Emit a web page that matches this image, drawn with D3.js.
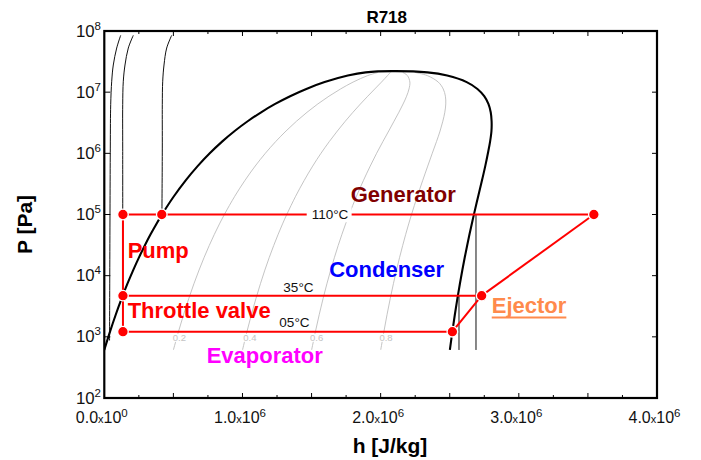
<!DOCTYPE html>
<html><head><meta charset="utf-8">
<script src="https://cdn.jsdelivr.net/npm/d3@7"></script>
<style>
body{margin:0;background:#fff}
svg{display:block}
text{font-family:"Liberation Sans",Arial,Helvetica,sans-serif}
</style>
</head><body>
<svg id="c" width="701" height="460"></svg>
<script>
// ---------- data (h in kJ/kg, P in Pa) ----------
// saturation dome of water (R718)
const satP  = [611.7,1228,2339,4247,7385,12352,19947,31202,47416,70183,101420,198670,361530,618230,1002800,1554900,2319600,3346900,4692300,6416600,8587900,11284000,14601000,18666000,21044000,22064000];
const satHf = [0.0,42.0,83.9,125.7,167.5,209.3,251.2,293.1,335.0,377.0,419.2,503.8,589.2,675.5,763.1,852.3,943.6,1037.6,1135.0,1236.7,1344.8,1462.2,1594.5,1762.2,1891.7,2084.3];
const satHg = [2500.9,2519.2,2537.4,2555.6,2573.5,2591.3,2608.8,2626.1,2643.0,2659.5,2675.6,2706.0,2733.5,2757.0,2776.2,2792.0,2801.9,2803.0,2796.6,2779.9,2749.6,2700.6,2622.7,2481.5,2338.8,2084.3];

// constant-quality lines (same pressures as satP, without the critical point)
const qualityNames = ["0.2","0.4","0.6","0.8"];
const q02 = [500.2,537.4,574.6,611.7,648.7,685.7,722.7,759.7,796.6,833.5,870.5,944.2,1018.1,1091.8,1165.7,1240.2,1315.3,1390.7,1467.3,1545.3,1625.8,1709.9,1800.1,1906.1,1981.1];
const q04 = [1000.4,1032.9,1065.3,1097.7,1129.9,1162.1,1194.2,1226.3,1258.2,1290.0,1321.8,1384.7,1447.0,1508.1,1568.3,1628.2,1686.9,1743.8,1799.6,1854.0,1906.7,1957.6,2005.8,2049.9,2070.5];
const q06 = [1500.5,1528.3,1556.0,1583.6,1611.1,1638.5,1665.8,1692.9,1719.8,1746.5,1773.0,1825.1,1875.8,1924.4,1970.9,2016.1,2058.6,2096.8,2132.0,2162.6,2187.7,2205.2,2211.4,2193.8,2160.0];
const q08 = [2000.7,2023.8,2046.7,2069.6,2092.3,2114.9,2137.3,2159.5,2181.4,2203.0,2224.3,2265.6,2304.6,2340.7,2373.6,2404.1,2430.2,2449.9,2464.3,2471.3,2468.6,2452.9,2417.1,2337.6,2249.4];
const qualityLabelH = [543,1054,1537,2039];
const qualityLabelP = 860;

// isotherms
const isoLiqP  = [8.5e7,5.27e7,2.78e7,1.51e7,6.24e6,1.22e6];
const iso05LiqH  = [118.7,89.7,65.1,53.6,46.3,43.4];
const iso35LiqH  = [209.9,173.7,149.8,137.5,133.2,133.2];
const iso110LiqH = [487.8,451.6,432.1,422.7,419.8,419.8];
const iso05LiqEnd = [38, 872];
const iso35LiqEnd = [134, 4710];
const iso110LiqEnd = [417, 100000];
const isoVapH = [2567, 2690];            // 35°C, 110°C vapour branches
const isoVapTop = [4710, 100000];
const isoVapBottom = 610;

// ejector refrigeration cycle
const cycleNames = ["A","B","C","D","E","F","G"];
const cycleH = [135, 416, 3543, 2731, 2519, 135, 135];
const cycleP = [100000, 100000, 100000, 4710, 1214, 4710, 1214];
const cycleSegments = [["A","C"],["C","D"],["D","E"],["D","F"],["E","G"],["A","F"],["F","G"]];

// annotations
const labelTexts  = ["Generator","Pump","Throttle valve","Condenser","Evaporator","Ejector"];
const labelColors = ["#800000","#ff0000","#ff0000","#0000ff","#ff00ff","#ff8a4c"];
const labelH = [1783, 169, 169, 1628, 741, 2804];
const labelP = [1.62e5, 1.945e4, 2032, 9620, 375, 2407];
const tempTexts = ["110°C","35°C","05°C"];
const tempH = [1501, 1296, 1267];
const tempP = [8.35e4, 5470, 1466];

// axes
const xTickMant = ["0.0","1.0","2.0","3.0","4.0"];
const xTickExp  = ["0","6","6","6","6"];
const xTickVals = [0,1000,2000,3000,4000];
const yTickVals = [1e2,1e3,1e4,1e5,1e6,1e7,1e8];
const yTickExp  = ["2","3","4","5","6","7","8"];

// ---------- drawing ----------
const svg = d3.select("#c");
const L = 104.3, R = 657, T = 31, B = 398;
const x = d3.scaleLinear().domain([0,4000]).range([L,R]);
const y = d3.scaleLog().domain([100,1e8]).range([B,T]);

const clipId = "plotclip";
svg.append("defs").append("clipPath").attr("id",clipId)
  .append("rect").attr("x",L).attr("y",T).attr("width",R-L).attr("height",B-T);
const plot = svg.append("g").attr("clip-path",`url(#${clipId})`);

const line = d3.line().x(d=>x(d[0])).y(d=>y(d[1])).curve(d3.curveCatmullRom.alpha(0.5));
const lin = d3.line().x(d=>x(d[0])).y(d=>y(d[1]));

// quality lines
[q02,q04,q06,q08].forEach(arr=>{
  const pts = arr.map((h,i)=>[h, satP[i]]);
  plot.append("path").attr("d",line(pts)).attr("fill","none")
    .attr("stroke","#bdbdbd").attr("stroke-width",0.9);
});
qualityNames.forEach((t,i)=>{
  const g = plot.append("g");
  const tx = g.append("text").attr("x",x(qualityLabelH[i])).attr("y",y(qualityLabelP))
    .attr("text-anchor","middle").attr("font-size",9.5).attr("fill","#c4c4c4").text(t);
  const bb = tx.node().getBBox();
  g.insert("rect","text").attr("x",bb.x-1).attr("y",bb.y+2).attr("width",bb.width+2).attr("height",bb.height-3).attr("fill","#fff");
});

// isotherms
const isoLiq = [[iso05LiqH,iso05LiqEnd],[iso35LiqH,iso35LiqEnd],[iso110LiqH,iso110LiqEnd]];
isoLiq.forEach(([hs,end])=>{
  const pts = hs.map((h,i)=>[h,isoLiqP[i]]).concat([end]);
  plot.append("path").attr("d",line(pts)).attr("fill","none")
    .attr("stroke","#111").attr("stroke-width",1);
});
isoVapH.forEach((h,i)=>{
  plot.append("path").attr("d",lin([[h,isoVapTop[i]],[h,isoVapBottom]])).attr("fill","none")
    .attr("stroke","#111").attr("stroke-width",1);
});

// saturation dome
const dome = satHf.map((h,i)=>[h,satP[i]])
  .concat(satHg.slice(0,-1).map((h,i)=>[h,satP[i]]).reverse());
plot.append("path").attr("d",line(dome)).attr("fill","none")
  .attr("stroke","#000").attr("stroke-width",2.1);

// cycle
const idx = n=>cycleNames.indexOf(n);
cycleSegments.forEach(([a,b])=>{
  plot.append("path").attr("d",lin([[cycleH[idx(a)],cycleP[idx(a)]],[cycleH[idx(b)],cycleP[idx(b)]]]))
    .attr("stroke","#ff0000").attr("stroke-width",2).attr("fill","none");
});
cycleNames.forEach((n,i)=>{
  plot.append("circle").attr("cx",x(cycleH[i])).attr("cy",y(cycleP[i])).attr("r",5.3)
    .attr("fill","#ff0000").attr("stroke","#fff").attr("stroke-width",1.3);
});

// temperature labels
tempTexts.forEach((t,i)=>{
  const g = svg.append("g");
  const tx = g.append("text").attr("x",x(tempH[i])).attr("y",y(tempP[i]))
    .attr("font-size",13.5).attr("fill","#111").text(t);
  if(i===0){
    const bb = tx.node().getBBox();
    g.insert("rect","text").attr("x",bb.x-5).attr("y",bb.y).attr("width",bb.width+8).attr("height",bb.height).attr("fill","#fff");
  }
});

// region labels
labelTexts.forEach((t,i)=>{
  const tx = svg.append("text").attr("x",x(labelH[i])).attr("y",y(labelP[i]))
    .attr("font-size",22).attr("font-weight","bold").attr("fill",labelColors[i]).text(t);
  if(t==="Ejector"){
    const w = tx.node().getComputedTextLength();
    svg.append("line").attr("x1",x(labelH[i])).attr("x2",x(labelH[i])+w)
      .attr("y1",y(labelP[i])+4).attr("y2",y(labelP[i])+4)
      .attr("stroke",labelColors[i]).attr("stroke-width",2);
  }
});

// frame & ticks
const ax = svg.append("g").attr("stroke","#000");
d3.range(250,4000,250).forEach(v=>{
  const len = v%500===0 ? 5 : 3;
  ax.append("line").attr("x1",x(v)).attr("x2",x(v)).attr("y1",B).attr("y2",B-len).attr("stroke-width",1);
  ax.append("line").attr("x1",x(v)).attr("x2",x(v)).attr("y1",T).attr("y2",T+len).attr("stroke-width",1);
});
yTickVals.slice(1,-1).forEach(v=>{
  ax.append("line").attr("x1",L).attr("x2",L+6).attr("y1",y(v)).attr("y2",y(v)).attr("stroke-width",1);
  ax.append("line").attr("x1",R).attr("x2",R-5).attr("y1",y(v)).attr("y2",y(v)).attr("stroke-width",1);
});
svg.append("rect").attr("x",L).attr("y",T).attr("width",R-L).attr("height",B-T)
  .attr("fill","none").attr("stroke","#000").attr("stroke-width",2.2);

// tick labels
xTickVals.forEach((v,i)=>{
  const t = svg.append("text").attr("x",x(v)-2.5).attr("y",423).attr("text-anchor","middle")
    .attr("font-size",16).attr("fill","#111");
  t.append("tspan").text(xTickMant[i]);
  t.append("tspan").attr("font-size",11).text("x");
  t.append("tspan").text("10");
  t.append("tspan").attr("font-size",11.5).attr("dy",-6).text(xTickExp[i]);
});
yTickVals.forEach((v,i)=>{
  const t = svg.append("text").attr("x",101).attr("y",y(v)+5.5).attr("text-anchor","end")
    .attr("font-size",16.8).attr("fill","#111");
  t.append("tspan").text("10");
  t.append("tspan").attr("font-size",11.5).attr("dy",-7).text(yTickExp[i]);
});

// titles
svg.append("text").attr("x",386.7).attr("y",22.7).attr("text-anchor","middle")
  .attr("font-size",17).attr("font-weight","bold").text("R718");
svg.append("text").attr("x",390).attr("y",453).attr("text-anchor","middle")
  .attr("font-size",21).attr("font-weight","bold").text("h [J/kg]");
svg.append("text").attr("transform","translate(31.7,224.5) rotate(-90)").attr("text-anchor","middle")
  .attr("font-size",21).attr("font-weight","bold").text("P [Pa]");
</script>
</body></html>
